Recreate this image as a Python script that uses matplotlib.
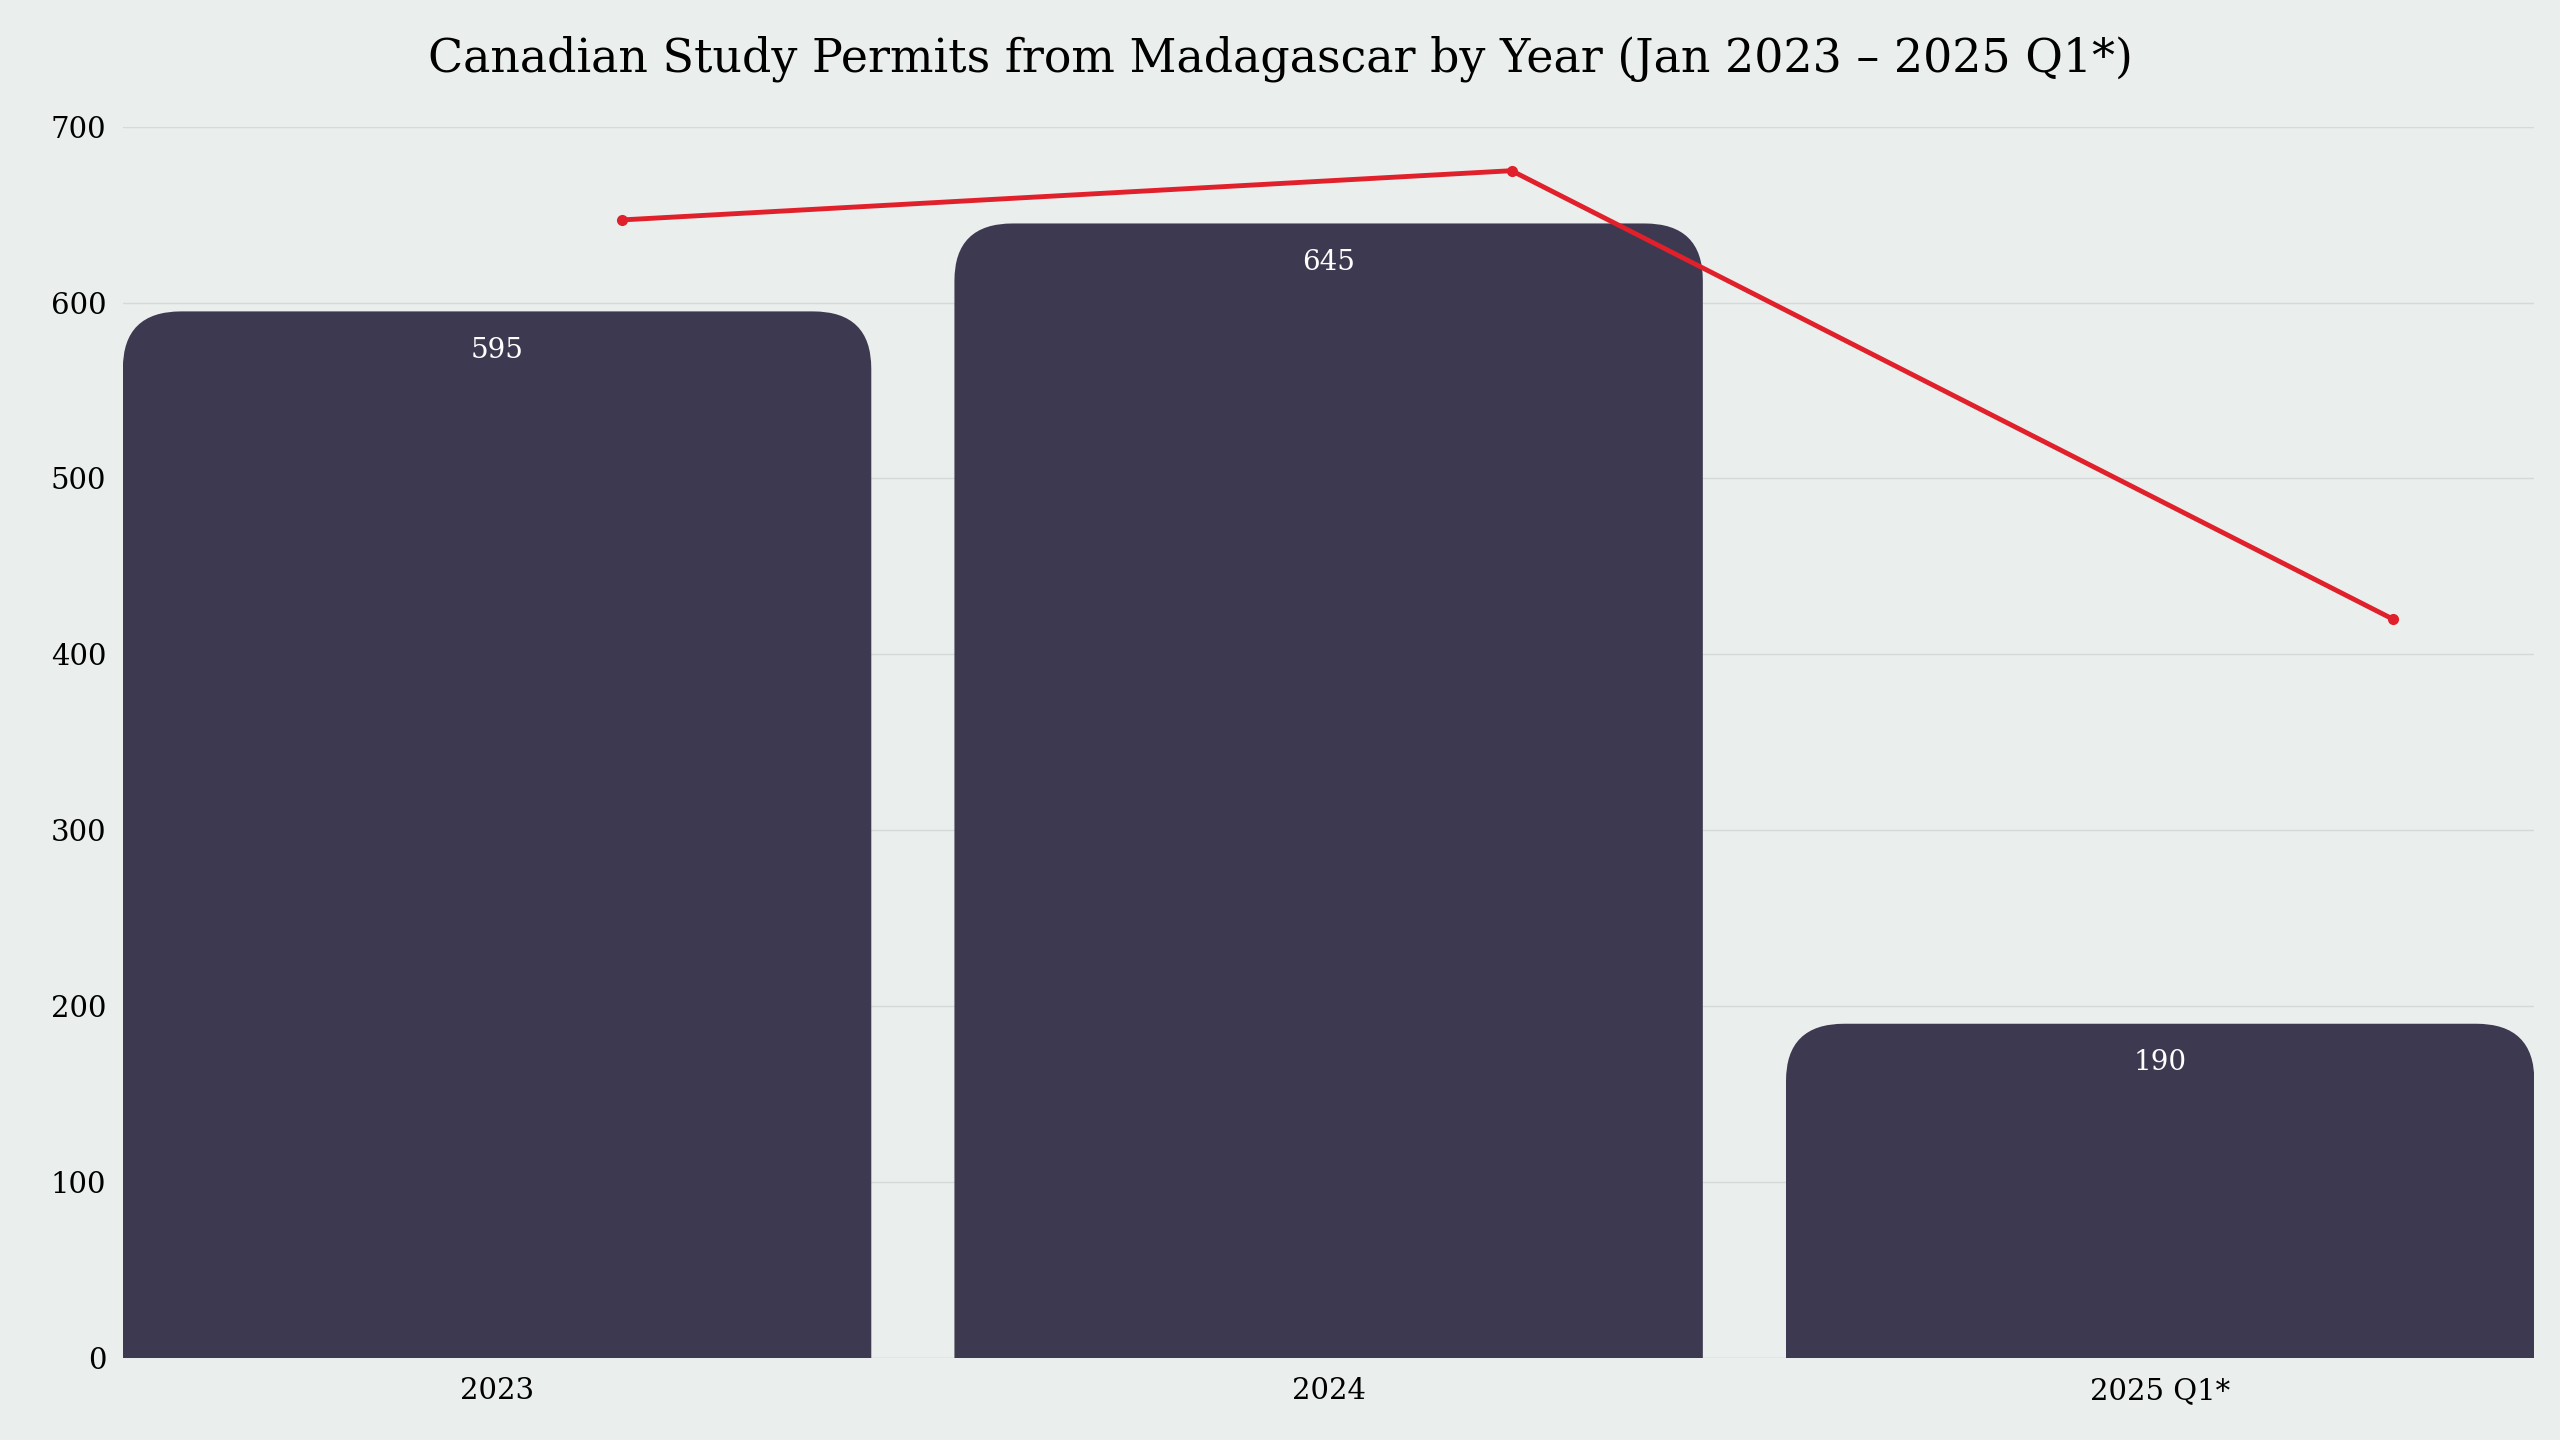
import matplotlib
matplotlib.use("Agg")
import matplotlib.pyplot as plt
from matplotlib.patches import FancyBboxPatch

categories = ["2023", "2024", "2025 Q1*"]
permits = [595, 645, 190]
trend_x = [0.15, 1.22, 2.28]
trend_y = [647, 675, 420]

bg = "#eaeeec"
bar_c = "#3d3950"
red = "#e0202a"
plt.rcParams["font.family"] = "DejaVu Serif"

fig = plt.figure(figsize=(25.6, 14.4), dpi=100, facecolor=bg)
ax = fig.add_axes([0.048, 0.057, 0.942, 0.855], facecolor=bg)
ax.set_xlim(-0.45, 2.45)
ax.set_ylim(0, 700)

w = 0.9
rx = 0.07
ry = 32.5
for i, v in enumerate(permits):
    p = FancyBboxPatch((i - w / 2, -60), w, v + 60,
                       boxstyle=f"round,pad=0,rounding_size={rx}",
                       mutation_aspect=ry / rx, fc=bar_c, ec="none", zorder=2)
    ax.add_patch(p)
    ax.text(i, v - 22, str(v), ha="center", va="center", color="white",
            fontsize=20, zorder=3)

ax.plot(trend_x, trend_y, color=red, lw=3.5, marker="o", ms=7, zorder=4)

ax.set_xticks(range(len(categories)))
ax.set_xticklabels(categories, fontsize=21)
ax.set_yticks(range(0, 701, 100))
ax.tick_params(axis="y", labelsize=21, length=0, pad=12)
ax.tick_params(axis="x", length=0, pad=14)
ax.grid(axis="y", color="#d5d9d7", lw=1, zorder=0)
ax.set_axisbelow(True)
for s in ax.spines.values():
    s.set_visible(False)
ax.axhline(0, color="#d5d9d7", lw=1, zorder=1)

fig.suptitle("Canadian Study Permits from Madagascar by Year (Jan 2023 – 2025 Q1*)",
             y=0.975, fontsize=33)
fig.savefig("out.png", dpi=100, facecolor=bg)
